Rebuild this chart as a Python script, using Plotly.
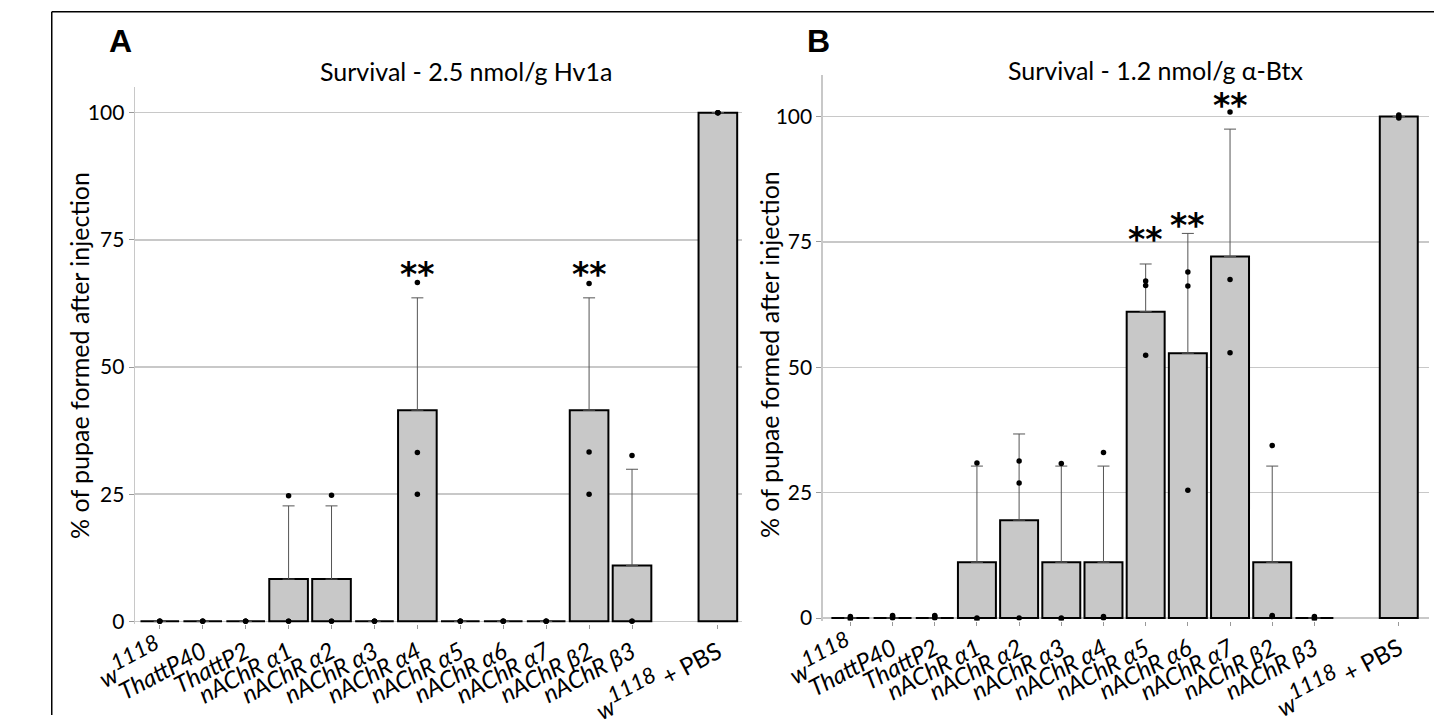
import plotly.graph_objects as go

W, H = 1434, 725

W1118 = "<i>w</i><sup><span style='font-size:22px'><i>1118</i></span></sup>"
categories = [
    W1118, "<i>ThattP40</i>", "<i>ThattP2</i>",
    "<i>nAChR α1</i>", "<i>nAChR α2</i>", "<i>nAChR α3</i>", "<i>nAChR α4</i>",
    "<i>nAChR α5</i>", "<i>nAChR α6</i>", "<i>nAChR α7</i>",
    "<i>nAChR β2</i>", "<i>nAChR β3</i>", W1118 + " + PBS",
]
slot = list(range(12)) + [13]  # one empty slot before the control

# Panel A : Survival - 2.5 nmol/g Hv1a
a_mean = [0, 0, 0, 8.3, 8.3, 0, 41.5, 0, 0, 0, 41.5, 11.0, 100]
a_sd = [None, None, None, 14.4, 14.4, None, 22.1, None, None, None, 22.1, 18.9, None]
a_points = [
    [0, 0, 0], [0, 0, 0], [0, 0, 0], [0, 0, 24.7], [0, 0, 24.8], [0, 0, 0],
    [25.0, 33.2, 66.6], [0, 0, 0], [0, 0, 0], [0, 0, 0], [25.0, 33.3, 66.4],
    [0, 0, 32.6], [100, 100, 100],
]
a_sig = ["", "", "", "", "", "", "**", "", "", "", "**", "", ""]
a_sig_y = [None, None, None, None, None, None, 69.8, None, None, None, 69.8, None, None]

# Panel B : Survival - 1.2 nmol/g α-Btx
b_mean = [0, 0, 0, 11.1, 19.5, 11.1, 11.1, 61.1, 52.8, 72.1, 11.1, 0, 100]
b_sd = [None, None, None, 19.2, 17.2, 19.2, 19.2, 9.5, 23.9, 25.4, 19.2, None, None]
b_points = [
    [0, 0.3, -0.3], [0, 0.3, 0.5], [0, 0.3, 0.5], [30.9, 0, -0.4], [31.3, 26.9, 0],
    [30.8, 0, -0.3], [33.0, 0.3, 0], [67.2, 66.3, 52.4], [69.0, 66.2, 25.5],
    [100.9, 67.5, 52.9], [34.4, 0.5, 0.3], [0, 0.3, -0.3], [100, 100.3, 99.7],
]
b_sig = ["", "", "", "", "", "", "", "**", "**", "**", "", "", ""]
b_sig_y = [None, None, None, None, None, None, None, 77.0, 79.8, 103.9, None, None, None]

titles = ["Survival - 2.5 nmol/g Hv1a", "Survival - 1.2 nmol/g α-Btx"]
panel_letters = ["A", "B"]
y_title = "% of pupae formed after injection"
y_ticks = [0, 25, 50, 75, 100]

FONT = "Lato"
BAR_FILL = "#c8c8c8"
GRID = "#c8c8c8"


def px_x(p):
    return p / W


def px_y(p):
    return 1 - p / H


fig = go.Figure()

panels = [
    dict(mean=a_mean, sd=a_sd, pts=a_points, sig=a_sig, sig_y=a_sig_y, xa="x", ya="y"),
    dict(mean=b_mean, sd=b_sd, pts=b_points, sig=b_sig, sig_y=b_sig_y, xa="x2", ya="y2"),
]

annotations = []
for p in panels:
    fig.add_trace(go.Bar(
        x=slot, y=p["mean"], width=0.9,
        marker=dict(color=BAR_FILL, line=dict(color="black", width=2)),
        error_y=dict(type="data", symmetric=False, array=p["sd"],
                     arrayminus=[0] * len(slot), color="#555555",
                     thickness=1, width=6),
        xaxis=p["xa"], yaxis=p["ya"], showlegend=False, hoverinfo="skip",
    ))
    xs, ys = [], []
    for s, vals in zip(slot, p["pts"]):
        for v in vals:
            xs.append(s)
            ys.append(v)
    fig.add_trace(go.Scatter(
        x=xs, y=ys, mode="markers",
        marker=dict(size=5.5, color="black"),
        xaxis=p["xa"], yaxis=p["ya"], showlegend=False, hoverinfo="skip",
    ))
    for s, t, yv in zip(slot, p["sig"], p["sig_y"]):
        if t:
            annotations.append(dict(
                x=s, y=yv, xref=p["xa"], yref=p["ya"], text="<b>" + t + "</b>",
                showarrow=False, yanchor="middle", yshift=-8,
                font=dict(family="DejaVu Sans", size=33, color="black"),
            ))

# titles
for txt, cx, cy in zip(titles, [435, 1147], [72, 71]):
    annotations.append(dict(
        x=px_x(cx), y=px_y(cy), xref="paper", yref="paper", text=txt,
        showarrow=False, xanchor="center", yanchor="middle",
        font=dict(family=FONT, size=25, color="black"),
    ))
# panel letters
for txt, cx, cy in zip(panel_letters, [79, 799], [42, 42]):
    annotations.append(dict(
        x=px_x(cx), y=px_y(cy), xref="paper", yref="paper", text="<b>" + txt + "</b>",
        showarrow=False, xanchor="center", yanchor="middle",
        font=dict(family="Liberation Sans", size=32, color="black"),
    ))
# y axis titles
for cx in [36, 748]:
    annotations.append(dict(
        x=px_x(cx), y=px_y(360), xref="paper", yref="paper", text=y_title,
        showarrow=False, textangle=-90, xanchor="center", yanchor="middle",
        font=dict(family=FONT, size=25, color="black"),
    ))

xaxis_common = dict(
    tickmode="array", tickvals=slot, ticktext=categories, tickangle=-28,
    tickfont=dict(family=FONT, size=24, color="black"),
    showgrid=False, zeroline=False, showline=False,
    ticks="outside", ticklen=4, tickcolor="#999999", tickwidth=1,
)
yaxis_common = dict(
    tickmode="array", tickvals=y_ticks,
    tickfont=dict(family=FONT, size=21, color="black"),
    showgrid=True, gridcolor=GRID, gridwidth=1.5, zeroline=False,
    showline=True, linecolor=GRID, linewidth=1.5,
    ticks="outside", ticklen=5, tickcolor="#999999",
)

fig.update_layout(
    width=W, height=H,
    margin=dict(l=0, r=0, t=0, b=0),
    paper_bgcolor="white", plot_bgcolor="white",
    showlegend=False, barmode="overlay",
    xaxis=dict(domain=[px_x(94), px_x(720)], range=[-0.575, 13.56], anchor="y", **xaxis_common),
    yaxis=dict(domain=[px_y(632.6), px_y(88)], range=[-0.5, 105.1], anchor="x", **yaxis_common),
    xaxis2=dict(domain=[px_x(803.6), px_x(1429)], range=[-0.65, 13.72], anchor="y2", **xaxis_common),
    yaxis2=dict(domain=[px_y(629.2), px_y(76)], range=[-0.5, 108.3], anchor="x2", **yaxis_common),
    annotations=annotations,
    shapes=[
        dict(type="line", xref="paper", yref="paper", x0=px_x(8), x1=1.0, y0=px_y(12), y1=px_y(12),
             line=dict(color="black", width=1.5)),
        dict(type="line", xref="paper", yref="paper", x0=px_x(8), x1=px_x(8), y0=px_y(12), y1=0,
             line=dict(color="black", width=1.5)),
    ],
)

fig.write_html(
    "out.html",
    config={"displayModeBar": False, "staticPlot": True},
    post_script="document.body.style.margin='0';document.body.style.overflow='hidden';",
)
